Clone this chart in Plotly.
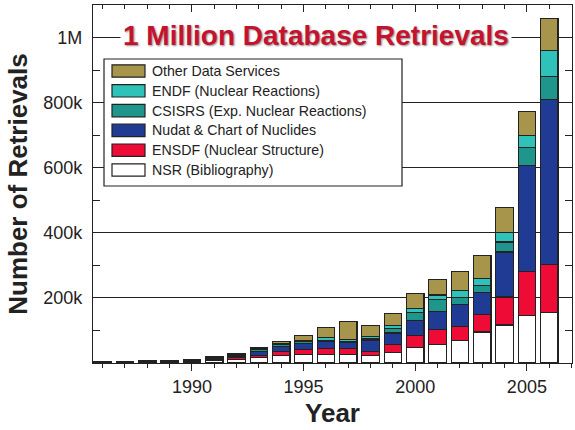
import plotly.graph_objects as go

years = list(range(1986, 2007))

nsr    = [1.5, 3, 6, 3, 5, 8, 11, 17, 22, 25, 25, 27, 24, 32, 47, 57, 68, 95, 117, 145, 156]
ensdf  = [0.5, 1, 1, 2, 2, 3, 5, 6, 13, 16, 20, 18, 11, 24, 37, 46, 44, 53, 86, 135, 146]
nudat  = [0, 0, 0, 1, 1, 3, 5, 13, 15, 18, 20, 17, 35, 36, 46, 55, 67, 68, 138, 328, 507]
csisrs = [0.3, 0.5, 0.5, 1, 1, 2, 3, 6, 6, 6, 5, 4, 4, 15, 25, 37, 23, 22, 31, 55, 72]
endf   = [0.2, 0.5, 0.5, 0.5, 1, 2, 2, 3, 5, 5, 8, 6, 8, 9, 12, 14, 20, 22, 30, 37, 78]
other  = [0.5, 0.5, 0.5, 0.5, 1, 2, 3, 3, 5, 15, 31, 55, 33, 35, 46, 47, 58, 71, 75, 74, 100]

series_names = ["NSR (Bibliography)", "ENSDF (Nuclear Structure)", "Nudat & Chart of Nuclides",
                "CSISRS (Exp. Nuclear Reactions)", "ENDF (Nuclear Reactions)", "Other Data Services"]
series_vals = [nsr, ensdf, nudat, csisrs, endf, other]
colors = ["#FFFFFF", "#EE0C36", "#1F3B94", "#1E968C", "#2FC2B8", "#A6954A"]

ytick_vals = [200000, 400000, 600000, 800000, 1000000]
ytick_text = ["200k", "400k", "600k", "800k", "1M"]

FONT = "Liberation Sans, Arial, sans-serif"
INK = "#222222"

fig = go.Figure()
for name, vals, col in zip(series_names, series_vals, colors):
    fig.add_trace(go.Bar(
        x=years, y=[v * 1000 for v in vals], name=name,
        marker=dict(color=col, line=dict(color=INK, width=1.2)),
        width=0.78, showlegend=False,
    ))
# empty trace to activate mirrored top axis
fig.add_trace(go.Scatter(x=[], y=[], xaxis="x2", showlegend=False, hoverinfo="skip"))

W, H = 575, 430
ml, mr, mt, mb = 93, 3, 5, 67
fig.update_layout(
    width=W, height=H, barmode="stack",
    margin=dict(l=ml, r=mr, t=mt, b=mb),
    paper_bgcolor="white", plot_bgcolor="white",
    font=dict(family=FONT, color=INK),
    xaxis=dict(
        range=[1985.57, 2007.02], tickmode="linear", tick0=1990, dtick=5,
        ticks="outside", ticklen=7, tickwidth=1.2, tickcolor=INK,
        minor=dict(tickmode="linear", tick0=1986, dtick=1, ticks="outside", ticklen=4, tickcolor=INK, tickwidth=1),
        showline=True, linecolor=INK, linewidth=1.2, mirror=True,
        showgrid=False, zeroline=False,
        tickfont=dict(size=18, family=FONT, color=INK),
        title=dict(text="<b>Year</b>", font=dict(size=26, family=FONT, color=INK), standoff=8),
    ),
    xaxis2=dict(
        overlaying="x", matches="x", side="top", tickmode="linear", tick0=1990, dtick=5,
        ticks="inside", ticklen=7, tickwidth=1.2, tickcolor=INK, showticklabels=False,
        minor=dict(tickmode="linear", tick0=1986, dtick=1, ticks="inside", ticklen=4, tickcolor=INK, tickwidth=1),
        showline=False, showgrid=False, zeroline=False,
    ),
    yaxis=dict(
        range=[0, 1100000], tickmode="array", tickvals=ytick_vals, ticktext=ytick_text,
        ticks="inside", ticklen=7, tickwidth=1.2, tickcolor=INK,
        minor=dict(tickmode="linear", tick0=0, dtick=100000, ticks="inside", ticklen=4, tickcolor=INK, tickwidth=1),
        showline=True, linecolor=INK, linewidth=1.2, mirror="allticks",
        showgrid=True, gridcolor=INK, gridwidth=1, zeroline=False,
        tickfont=dict(size=18, family=FONT, color=INK), ticklabelstandoff=6,
        title=dict(text="<b>Number of Retrievals</b>", font=dict(size=26, family=FONT, color=INK), standoff=8),
    ),
)

# Title banner
fig.add_annotation(
    x=0.4656, xref="paper", y=1006000, yref="y", xanchor="center", yanchor="middle",
    text="<b>1 Million Database Retrievals</b>", showarrow=False,
    font=dict(size=28, family=FONT, color="#C4122F", shadow="1px 1px 2px rgba(0,0,0,0.45)"),
    bgcolor="white", borderpad=2,
)

# Manual legend (wide swatches as in the reference)
pw, ph = W - ml - mr, H - mt - mb
def px2x(px): return (px - ml) / pw
def py2y(py): return (H - mb - py) / ph

fig.add_shape(type="rect", xref="paper", yref="paper",
              x0=px2x(104), x1=px2x(402), y0=py2y(186), y1=py2y(59),
              line=dict(color=INK, width=1.2), fillcolor="white", layer="above")
legend_order = list(reversed(range(len(series_names))))
for i, k in enumerate(legend_order):
    cy = 71 + 19.8 * i
    fig.add_shape(type="rect", xref="paper", yref="paper",
                  x0=px2x(112), x1=px2x(145), y0=py2y(cy + 6.2), y1=py2y(cy - 6.2),
                  line=dict(color=INK, width=1.2), fillcolor=colors[k], layer="above")
    fig.add_annotation(x=px2x(150), xref="paper", y=py2y(cy), yref="paper",
                       xanchor="left", yanchor="middle", showarrow=False,
                       text=series_names[k], font=dict(size=14.2, family=FONT, color=INK))

fig.write_html("out.html")
